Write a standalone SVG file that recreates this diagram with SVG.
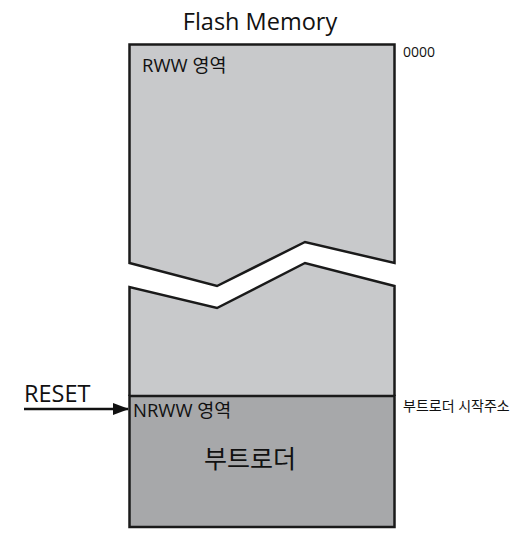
<svg xmlns="http://www.w3.org/2000/svg" width="520" height="539" viewBox="0 0 520 539">
<style>
.t{font-family:"Open Sans","Noto Sans CJK KR","Liberation Sans",sans-serif;fill:#111}
.edge{stroke:#1a1a1a;stroke-width:2.5;stroke-linejoin:miter}
</style>
<defs>
<marker id="ah" markerWidth="16" markerHeight="12" refX="15" refY="6" orient="auto" markerUnits="userSpaceOnUse">
<path d="M0,0 L16,6 L0,12 Z" fill="#111"/>
</marker>
</defs>
<rect width="520" height="539" fill="#fff"/>
<text class="t" x="260" y="30" font-size="23.5" text-anchor="middle">Flash Memory</text>
<g id="rww-top">
<path class="edge" d="M129.5,44.5 H394.5 V263 L305,242 L217,286 L129.5,263 Z" fill="#c8c9cb"/>
<text class="t" x="142" y="72" font-size="18.5">RWW 영역</text>
</g>
<g id="rww-bottom">
<path d="M129.5,287 L217,308 L305,263 L394.5,286 V396 H129.5 Z" fill="#c8c9cb"/>
<path class="edge" fill="none" d="M129.5,396 V287 L217,308 L305,263 L394.5,286 V396"/>
</g>
<g id="nrww">
<rect class="edge" x="129.5" y="396" width="265" height="131" fill="#a7a8aa"/>
<text class="t" x="133" y="417" font-size="18.5">NRWW 영역</text>
<text class="t" x="250" y="468" font-size="25" text-anchor="middle">부트로더</text>
</g>
<text class="t" x="403" y="57" font-size="14">0000</text>
<text class="t" x="403" y="411" font-size="14">부트로더 시작주소</text>
<text class="t" x="24" y="402" font-size="23.5">RESET</text>
<g id="connectors">
<line x1="24" y1="409" x2="128" y2="409" stroke="#111" stroke-width="2.5" marker-end="url(#ah)"/>
</g>
</svg>
